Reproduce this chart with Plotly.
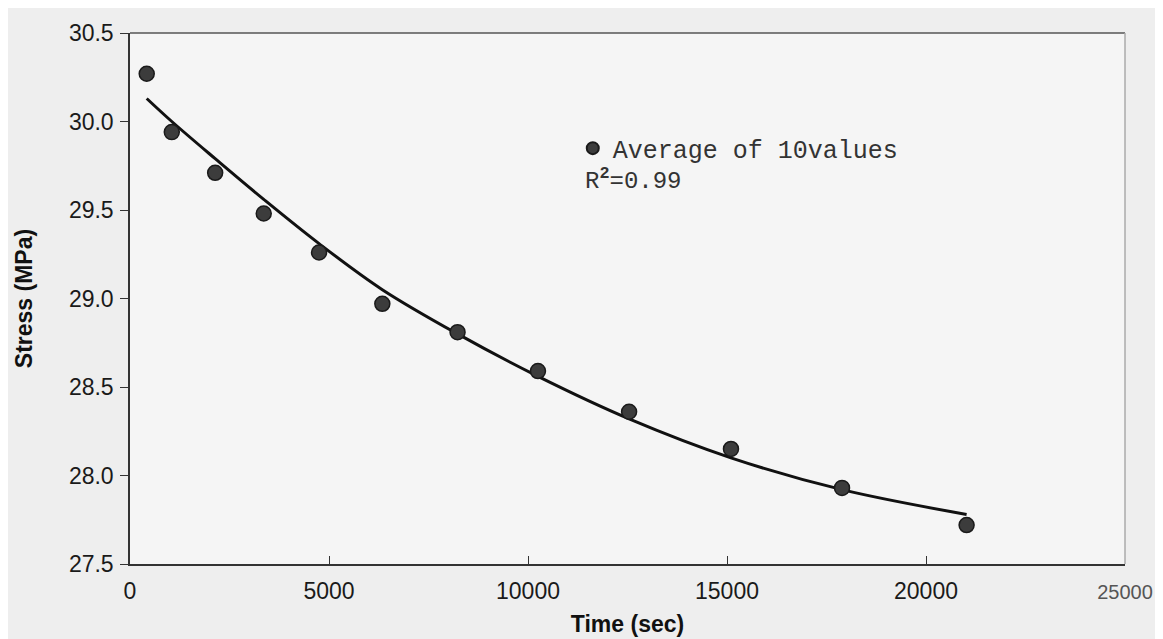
import plotly.graph_objects as go

# Data
time_sec = [420, 1050, 2140, 3360, 4750, 6340, 8230, 10250, 12540, 15100, 17890, 21020]
stress_avg = [30.27, 29.94, 29.71, 29.48, 29.26, 28.97, 28.81, 28.59, 28.36, 28.15, 27.93, 27.72]

# Fitted curve (at the same times)
fit_time = [420, 1050, 2140, 3360, 4750, 6340, 8230, 10250, 12540, 15100, 17890, 21020]
fit_stress = [30.13, 30.00, 29.79, 29.56, 29.31, 29.05, 28.80, 28.56, 28.32, 28.10, 27.92, 27.78]

x_ticks = [0, 5000, 10000, 15000, 20000, 25000]
x_tick_text = ["0", "5000", "10000", "15000", "20000",
               '<span style="color:#555555;font-size:20px">25000</span>']
y_ticks = [27.5, 28.0, 28.5, 29.0, 29.5, 30.0, 30.5]

fig = go.Figure()
fig.add_trace(go.Scatter(
    x=fit_time, y=fit_stress, mode="lines", line=dict(color="#111111", width=3, shape="spline", smoothing=1.0),
    showlegend=False, hoverinfo="skip"))
fig.add_trace(go.Scatter(
    x=time_sec, y=stress_avg, mode="markers", name="Average of 10values",
    marker=dict(size=15, color="#3c3c3c", line=dict(color="#1a1a1a", width=1.5))))

mono = "Liberation Mono, Courier New, monospace"
fig.update_layout(
    width=1163, height=639,
    margin=dict(l=122, r=46, t=23, b=83),
    paper_bgcolor="#eeeeee", plot_bgcolor="#f5f5f5",
    font=dict(family="Liberation Sans, Arial", color="#222222"),
    legend=dict(x=0.445, y=0.826, xanchor="left", yanchor="top", bgcolor="rgba(0,0,0,0)",
                font=dict(family=mono, size=25, color="#333333"),
                itemsizing="constant", itemwidth=30),
    annotations=[dict(x=0.455, y=0.724, xref="paper", yref="paper", xanchor="left", yanchor="middle",
                      text="R<sup><b>2</b></sup>=0.99", showarrow=False,
                      font=dict(family=mono, size=24, color="#333333"))],
    shapes=[
        dict(type="line", xref="x domain", yref="y domain", x0=0, x1=1, y0=1, y1=1,
             line=dict(color="#555555", width=1.5)),
        dict(type="line", xref="x domain", yref="y domain", x0=1, x1=1, y0=0, y1=1,
             line=dict(color="#aaaaaa", width=1.5)),
    ],
)
fig.update_xaxes(range=[0, 25000], tickvals=x_ticks, ticktext=x_tick_text, ticks="inside", ticklen=8,
                 tickcolor="#333", showline=True, linecolor="#333333", linewidth=1.5, showgrid=False,
                 zeroline=False, tickfont=dict(size=23, color="#1a1a1a"), ticklabelstandoff=6,
                 title=dict(text="<b>Time (sec)</b>", font=dict(size=23, color="#111"), standoff=13))
fig.update_yaxes(range=[27.5, 30.5], tickvals=y_ticks, tickformat=".1f", ticks="outside", ticklen=8,
                 tickcolor="#333", showline=True, linecolor="#333333", linewidth=1.5, showgrid=False,
                 zeroline=False, tickfont=dict(size=23, color="#1a1a1a"), ticklabelstandoff=2,
                 title=dict(text="<b>Stress (MPa)</b>", font=dict(size=23, color="#111"), standoff=30))

fig.write_html("out.html")
